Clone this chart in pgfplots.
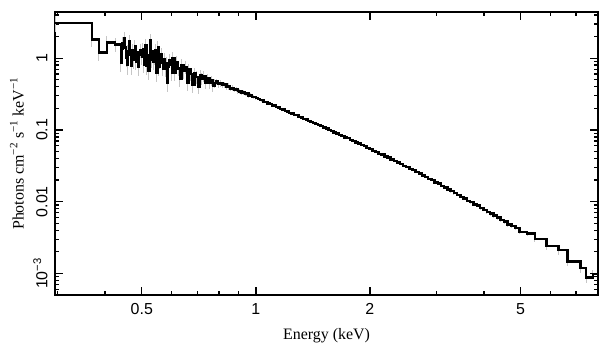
\documentclass[border=0pt]{standalone}
\usepackage{fontspec}
\setmainfont{Liberation Serif}
\setsansfont{Liberation Sans}
\usepackage{pgfplots}
\usepackage{pgfplotstable}
\pgfplotsset{compat=1.18}

\pgfplotstableread{
x y e
0.295 3.10 0.75
0.369 1.82 0.40
0.385 1.20 0.30
0.404 1.66 0.35
0.425 1.55 0.35
0.440 0.86 0.22
0.443 1.35 0.30
0.445 1.60 0.38
0.449 1.90 0.45
0.452 1.40 0.32
0.454 1.00 0.25
0.457 0.80 0.22
0.459 1.25 0.30
0.463 1.70 0.40
0.466 1.10 0.26
0.468 0.78 0.20
0.471 1.30 0.30
0.474 0.95 0.24
0.479 1.45 0.34
0.482 0.90 0.22
0.484 1.20 0.28
0.489 0.75 0.19
0.492 1.10 0.26
0.495 1.30 0.30
0.500 1.05 0.25
0.503 1.35 0.30
0.506 0.82 0.20
0.511 1.50 0.34
0.514 0.78 0.19
0.517 1.10 0.25
0.521 0.66 0.17
0.526 1.78 0.40
0.529 0.95 0.22
0.531 1.25 0.28
0.536 0.88 0.20
0.541 1.05 0.24
0.543 1.30 0.28
0.546 0.62 0.15
0.551 1.40 0.31
0.554 0.75 0.18
0.557 0.90 0.20
0.562 1.15 0.25
0.565 0.85 0.19
0.568 0.72 0.16
0.573 0.98 0.21
0.576 0.70 0.16
0.579 0.85 0.19
0.584 0.46 0.12
0.587 0.75 0.17
0.590 0.95 0.20
0.597 0.80 0.17
0.600 0.62 0.14
0.603 1.00 0.21
0.610 0.62 0.14
0.613 0.78 0.17
0.617 0.88 0.18
0.624 0.72 0.15
0.630 0.52 0.12
0.637 0.80 0.16
0.644 0.66 0.14
0.651 0.75 0.15
0.658 0.45 0.10
0.665 0.70 0.14
0.672 0.60 0.12
0.680 0.42 0.09
0.688 0.62 0.12
0.696 0.55 0.11
0.704 0.40 0.08
0.712 0.58 0.11
0.720 0.52 0.10
0.729 0.56 0.10
0.737 0.46 0.09
0.745 0.52 0.09
0.754 0.45 0.08
0.762 0.49 0.08
0.770 0.41 0.07
0.778 0.45 0.07
0.786 0.47 0.05
0.796 0.44 0.05
0.806 0.45 0.05
0.816 0.42 0.04
0.826 0.43 0.04
0.836 0.40 0.04
0.846 0.405 0.04
0.856 0.38 0.035
0.866 0.385 0.035
0.876 0.365 0.03
0.886 0.37 0.03
0.896 0.35 0.03
0.906 0.345 0.03
0.916 0.33 0.025
0.926 0.335 0.025
0.936 0.318 0.02
0.946 0.32 0.02
0.956 0.302 0.02
0.966 0.305 0.02
0.976 0.29 0.015
0.988 0.288 0.015
1.000 0.276 0.015
1.012 0.272 0.012
1.024 0.262 0.012
1.036 0.260 0.012
1.048 0.247 0.01
1.060 0.244 0.01
1.074 0.233 0.01
1.088 0.231 0.01
1.102 0.220 0.009
1.116 0.218 0.009
1.130 0.208 0.008
1.145 0.205 0.008
1.160 0.196 0.007
1.176 0.193 0.007
1.192 0.184 0.006
1.208 0.181 0.006
1.225 0.173 0.005
1.242 0.170 0.005
1.260 0.162 0.005
1.278 0.160 0.005
1.296 0.152 0.004
1.315 0.149 0.004
1.334 0.142 0.004
1.354 0.140 0.004
1.374 0.133 0.004
1.395 0.130 0.004
1.416 0.124 0.003
1.438 0.121 0.003
1.460 0.116 0.003
1.483 0.113 0.003
1.506 0.108 0.003
1.530 0.105 0.003
1.554 0.0995 0.003
1.579 0.0975 0.003
1.604 0.0925 0.002
1.630 0.0895 0.002
1.657 0.0855 0.002
1.684 0.0830 0.002
1.712 0.0788 0.002
1.741 0.0768 0.002
1.770 0.0728 0.002
1.800 0.0705 0.002
1.831 0.0668 0.002
1.862 0.0648 0.002
1.894 0.0612 0.002
1.927 0.0595 0.002
1.961 0.0560 0.002
1.996 0.0545 0.002
2.032 0.0512 0.0015
2.069 0.0495 0.0015
2.107 0.0466 0.0015
2.146 0.0452 0.0015
2.186 0.0424 0.0013
2.227 0.0410 0.0013
2.269 0.0385 0.0012
2.312 0.0372 0.0012
2.356 0.0350 0.0011
2.401 0.0338 0.0011
2.447 0.0316 0.001
2.494 0.0305 0.001
2.542 0.0286 0.001
2.591 0.0276 0.001
2.641 0.0258 0.0009
2.692 0.0247 0.0009
2.744 0.0232 0.0008
2.797 0.0222 0.0008
2.851 0.0208 0.0008
2.906 0.0199 0.0008
2.962 0.0186 0.0007
3.020 0.0178 0.0007
3.080 0.0165 0.0007
3.141 0.0158 0.0007
3.203 0.0147 0.0006
3.266 0.0140 0.0006
3.331 0.0131 0.0006
3.398 0.0125 0.0006
3.466 0.0116 0.0005
3.535 0.0111 0.0005
3.606 0.0103 0.0005
3.679 0.0099 0.0005
3.754 0.0091 0.0005
3.830 0.0088 0.0005
3.908 0.0081 0.0004
3.988 0.0077 0.0004
4.070 0.0072 0.0004
4.154 0.0068 0.0004
4.240 0.0064 0.0004
4.330 0.0060 0.0004
4.420 0.0056 0.0004
4.520 0.0053 0.0004
4.620 0.0048 0.0003
4.730 0.0046 0.0003
4.840 0.0043 0.0003
4.960 0.0038 0.0003
5.200 0.0036 0.0003
5.450 0.0030 0.0003
5.850 0.0024 0.0003
6.300 0.0021 0.0003
6.650 0.00147 0.0002
7.200 0.00120 0.0002
7.450 0.00088 0.00015
7.750 0.00098 0.00015
8.000 0.00098 0
}\spectrum

\begin{document}
\begin{tikzpicture}
\useasboundingbox (-55bp,-62bp) rectangle (554bp,295bp);
\begin{axis}[
  at={(0,0)}, anchor=south west,
  scale only axis, width=543bp, height=283bp,
  xmode=log, ymode=log,
  xmin=0.295, xmax=8, ymin=5e-4, ymax=4.4,
  axis line style={line width=1.5bp},
  every tick/.style={line width=1.3bp, black},
  tick align=inside, xtick pos=both, ytick pos=both,
  major tick length=8bp, minor tick length=4.5bp,
  xtick={0.5,1,2,5}, xticklabels={0.5,1,2,5},
  minor xtick={0.3,0.4,0.6,0.7,0.8,0.9,3,4,6,7},
  ytick={0.001,0.01,0.1,1},
  yticklabels={10\textsuperscript{−3},0.01,0.1,1},
  minor ytick={6e-4,7e-4,8e-4,9e-4,2e-3,3e-3,4e-3,5e-3,6e-3,7e-3,8e-3,9e-3,0.02,0.03,0.04,0.05,0.06,0.07,0.08,0.09,0.2,0.3,0.4,0.5,0.6,0.7,0.8,0.9,2,3,4},
  /pgf/number format/assume math mode=true,
  tick label style={font=\sffamily\fontsize{16}{18}\selectfont},
  xticklabel shift=5bp,
  yticklabel shift=4bp,
  yticklabel style={rotate=90, anchor=south},
  xlabel={Energy (keV)},
  ylabel={Photons cm\textsuperscript{−2} s\textsuperscript{−1} keV\textsuperscript{−1}},
  label style={font=\rmfamily\fontsize{16}{18}\selectfont},
  xlabel style={at={(axis description cs:0.5,-0.145)}, anchor=center},
  ylabel style={at={(axis description cs:-0.070,0.5)}, anchor=center},
]
\addplot[draw=none, mark=none, forget plot,
  error bars/.cd, y dir=both, y explicit,
  error bar style={draw=gray!45, line width=0.8bp}, error mark=none]
  table[x=x, y=y, y error=e] {\spectrum};
\addplot[const plot, mark=none, black, line width=2.4bp, line join=miter] table[x=x, y=y] {\spectrum};
\end{axis}
\end{tikzpicture}
\end{document}
